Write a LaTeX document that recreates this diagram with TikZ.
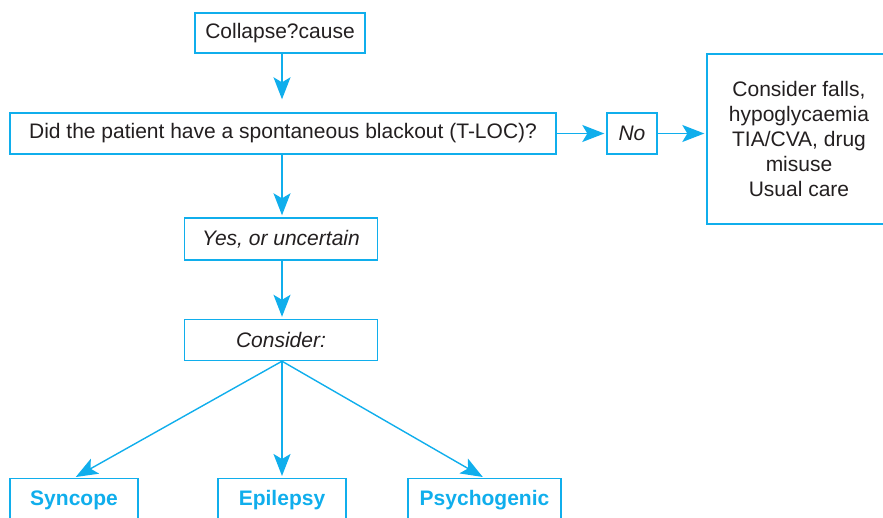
\documentclass[tikz,border=0pt]{standalone}
\usepackage{fontspec}
\setmainfont{Liberation Sans}
\usetikzlibrary{arrows.meta}
\definecolor{cy}{RGB}{16,174,236}
\definecolor{ink}{RGB}{35,31,32}
\tikzset{
  box/.style={draw=cy, line width=1.4bp, text=ink, inner sep=0pt, align=center,
    font=\fontsize{21bp}{25bp}\selectfont},
  outbox/.style={box, text=cy, font=\fontsize{21bp}{25bp}\selectfont\bfseries},
  arr/.style={draw=cy, line width=1.4bp, -{Stealth[length=22bp,width=17bp,inset=5bp]}, shorten >=2bp}
}
\begin{document}
\begin{tikzpicture}[x=1bp,y=-1bp]
\useasboundingbox (0,0) rectangle (883,518);
\clip (0,0) rectangle (883,518);
\node[box, minimum width=170bp, minimum height=40bp] (collapse) at (280,33) {Collapse?cause};
\node[box, minimum width=546bp, minimum height=41bp] (main) at (283,133.5) {Did the patient have a spontaneous blackout (T-LOC)?};
\node[box, minimum width=50bp, minimum height=41bp] (no) at (632,133.5) {\itshape No};
\node[box, minimum width=184bp, minimum height=170bp] (other) at (799,139) {Consider falls,\\hypoglycaemia\\TIA/CVA, drug\\misuse\\Usual care};
\node[box, minimum width=193bp, minimum height=42bp] (yes) at (281,239) {\itshape Yes, or uncertain};
\node[box, minimum width=193bp, minimum height=41bp] (consider) at (281,340) {\itshape Consider:};
\node[outbox, anchor=north, minimum width=128bp, text height=27bp, text depth=30bp] (syn) at (74,478) {Syncope};
\node[outbox, anchor=north, minimum width=128bp, text height=27bp, text depth=30bp] (epi) at (282,478) {Epilepsy};
\node[outbox, anchor=north, minimum width=153bp, text height=27bp, text depth=30bp] (psy) at (484.5,478) {Psychogenic};
\draw[arr, shorten >=13bp] (collapse.south -| epi.north) -- (main.north -| epi.north);
\draw[arr] (main.south -| epi.north) -- (yes.north -| epi.north);
\draw[arr] (yes.south -| epi.north) -- (consider.north -| epi.north);
\draw[arr] (main.east) -- (no.west);
\draw[arr] (no.east) -- (other.west |- no.east);
\draw[arr] (consider.south -| epi.north) -- (syn.north);
\draw[arr] (consider.south -| epi.north) -- (epi.north);
\draw[arr] (consider.south -| epi.north) -- (psy.north);
\end{tikzpicture}
\end{document}
